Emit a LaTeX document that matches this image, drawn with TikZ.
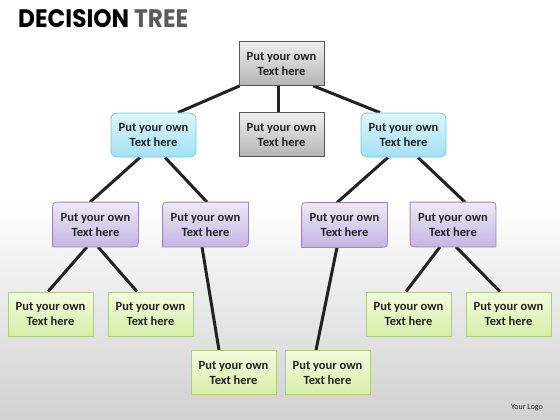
\documentclass[tikz,border=0pt]{standalone}
\usepackage{fontspec}
\setmainfont{Carlito}
\newfontfamily\titlefont{Poppins}
\usepackage{xcolor}
\usepackage{graphicx}
\usepackage{tikz}
\usetikzlibrary{backgrounds}
\definecolor{txtcol}{HTML}{222222}
\definecolor{branchcol}{HTML}{222222}
\definecolor{graytop}{HTML}{EEEEEE}
\definecolor{graybot}{HTML}{B5B5B5}
\definecolor{grayline}{HTML}{555555}
\definecolor{bluetop}{HTML}{DDF5FC}
\definecolor{bluebot}{HTML}{A2E1F4}
\definecolor{blueline}{HTML}{7CC6DA}
\definecolor{purpletop}{HTML}{EEE8F7}
\definecolor{purplebot}{HTML}{C6B6E3}
\definecolor{purpleline}{HTML}{9A8AB9}
\definecolor{greentop}{HTML}{F3FBDE}
\definecolor{greenbot}{HTML}{D7EFA8}
\definecolor{greenline}{HTML}{B0CB86}
\tikzstyle{boxnode}=[font=\bfseries\fontsize{12.5}{15}\selectfont, text=txtcol, align=center, minimum width=85pt, minimum height=44pt, inner sep=0pt, line width=0.8pt]
\tikzstyle{graynode}=[boxnode, draw=grayline, top color=graytop, bottom color=graybot]
\tikzstyle{bluenode}=[boxnode, draw=blueline, top color=bluetop, bottom color=bluebot, rounded corners=6pt]
\tikzstyle{purplenode}=[boxnode]
\tikzstyle{purpleshape}=[draw=purpleline, line width=0.8pt, top color=purpletop, bottom color=purplebot]
\tikzstyle{greennode}=[boxnode, draw=greenline, top color=greentop, bottom color=greenbot]
\tikzstyle{branch}=[line width=3pt, color=branchcol]

\begin{document}
\begin{tikzpicture}[x=1pt, y=-1pt]
\useasboundingbox (0,0) rectangle (560,420);
\node [anchor=north west, inner sep=0pt, text=black] (title) at (18,9)
  {\resizebox{170pt}{18pt}{\titlefont\bfseries DECISION \textcolor[HTML]{5A5A5A}{TREE}}};

\node [graynode] (root) at (281.5,63.5) {Put your own\\Text here};
\node [graynode] (mid) at (281.5,134.5) {Put your own\\Text here};
\node [bluenode] (bleft) at (153.5,135) {Put your own\\Text here};
\node [bluenode] (bright) at (403.5,135) {Put your own\\Text here};
\node [purplenode] (pa) at (95.5,224.5) {Put your own\\Text here};
\node [purplenode] (pb) at (205.5,224.5) {Put your own\\Text here};
\node [purplenode] (pc) at (344.5,225) {Put your own\\Text here};
\node [purplenode] (pd) at (453,224.5) {Put your own\\Text here};
\node [greennode] (ga) at (50.5,314) {Put your own\\Text here};
\node [greennode] (gb) at (150.5,314) {Put your own\\Text here};
\node [greennode] (gc) at (233.5,372.5) {Put your own\\Text here};
\node [greennode] (gd) at (327.5,372.5) {Put your own\\Text here};
\node [greennode] (ge) at (408.5,314) {Put your own\\Text here};
\node [greennode] (gf) at (508.5,314) {Put your own\\Text here};
\node [font=\fontsize{8}{9}\selectfont, text=txtcol] (logo) at (527,408) {Your Logo};

\begin{pgfonlayer}{background}
% page
\fill[white] (0,0) rectangle (560,420);
\shade[top color=white, bottom color=black!18] (0,200) rectangle (560,420);
% branches
\draw[branch] ([xshift=1pt]root.south west) -- ([xshift=24.5pt]bleft.north);
\draw[branch] ([xshift=-3.5pt]root.south) -- ([xshift=-3.5pt]mid.north);
\draw[branch] ([xshift=-11pt]root.south east) -- ([xshift=-23.5pt]bright.north);
\draw[branch] ([xshift=-13.5pt]bleft.south) -- ([xshift=-5.5pt]pa.north);
\draw[branch] ([xshift=11.5pt]bleft.south) -- ([xshift=1.5pt]pb.north);
\draw[branch] ([xshift=-15.5pt]bright.south) -- ([xshift=-7.5pt]pc.north);
\draw[branch] ([xshift=14.5pt]bright.south) -- ([xshift=12pt]pd.north);
\draw[branch] ([xshift=-8.5pt]pa.south) -- ([xshift=-2.5pt]ga.north);
\draw[branch] ([xshift=2.5pt]pa.south) -- ([xshift=-13.5pt]gb.north);
\draw[branch] ([xshift=-3.5pt]pb.south) -- ([xshift=-14.5pt]gc.north);
\draw[branch] ([xshift=-7.5pt]pc.south) -- ([xshift=-11.5pt]gd.north);
\draw[branch] ([xshift=-13pt]pd.south) -- ([xshift=-2.5pt]ge.north);
\draw[branch] ([xshift=3pt]pd.south) -- ([xshift=-8.5pt]gf.north);
% purple leaves: two opposite corners rounded
\foreach \n in {pa,pb,pc}
  \shade[purpleshape] (\n.north east) -- ([yshift=8pt]\n.south east) .. controls (\n.south east) .. ([xshift=-8pt]\n.south east)
    -- (\n.south west) -- ([yshift=-8pt]\n.north west) .. controls (\n.north west) .. ([xshift=8pt]\n.north west) -- cycle;
\shade[purpleshape] (pd.north west) -- ([xshift=-8pt]pd.north east) .. controls (pd.north east) .. ([yshift=-8pt]pd.north east)
  -- (pd.south east) -- ([xshift=8pt]pd.south west) .. controls (pd.south west) .. ([yshift=8pt]pd.south west) -- cycle;
\end{pgfonlayer}
\end{tikzpicture}
\end{document}
